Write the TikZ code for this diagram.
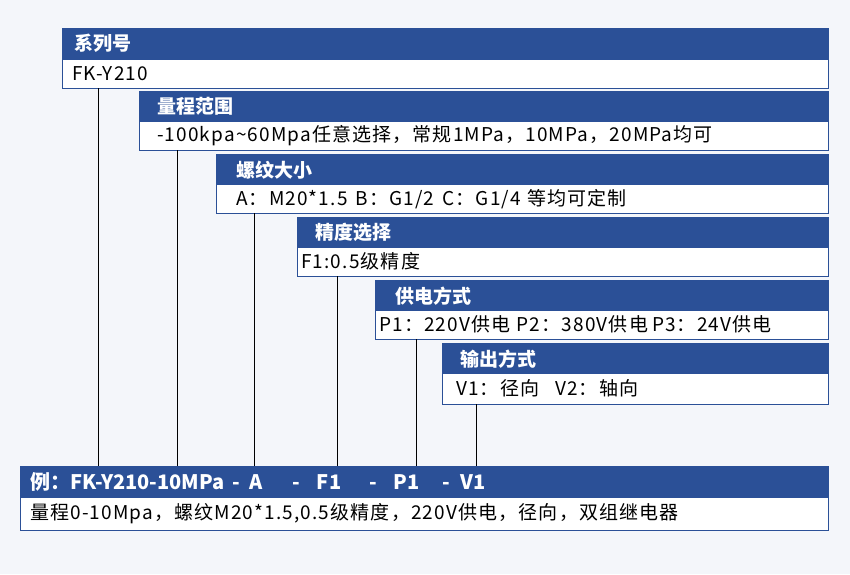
\documentclass[tikz,border=0pt]{standalone}
\usepackage{fontspec}
\setmainfont{Noto Sans CJK SC}
\definecolor{hdblue}{HTML}{2B5097}
\definecolor{bgrey}{HTML}{F4F6FA}
\tikzset{
  head/.style={anchor=north west, fill=hdblue, draw=hdblue, text=white, font=\bfseries\fontsize{19}{21}\selectfont, minimum height=31pt, inner sep=0pt, align=left},
  body/.style={anchor=north west, fill=white, draw=hdblue, font=\fontsize{19}{21}\selectfont\addfontfeature{LetterSpace=6}, minimum height=29pt, inner sep=0pt, align=left},
  lead/.style={draw=black, line width=0.9pt}
}
\begin{document}
\begin{tikzpicture}[x=1pt, y=-1pt]
    \def\xr{828};
    \useasboundingbox[fill=bgrey] (0,0) rectangle (850,574);

% option blocks
    \node[head, text width=\xr-62] (h1) at (62,28) {\hspace{12pt}系列号};
    \node[body, text width=\xr-62] (b1) at (62,59) {\hspace{10pt}FK-Y210};
    \node[head, text width=\xr-139] (h2) at (139,91) {\hspace{18pt}量程范围};
    \node[body, text width=\xr-139] (b2) at (139,121) {\hspace{18pt}-100kpa\textasciitilde 60Mpa任意选择，常规1MPa，10MPa，20MPa均可};
    \node[head, text width=\xr-216] (h3) at (216,154) {\hspace{20pt}螺纹大小};
    \node[body, text width=\xr-216] (b3) at (216,184) {\hspace{20pt}A：M20*1.5\hspace{8pt}B：G1/2\hspace{8pt}C：G1/4 等均可定制};
    \node[head, text width=\xr-297] (h4) at (297,217) {\hspace{18pt}精度选择};
    \node[body, text width=\xr-297] (b4) at (297,247) {\hspace{4pt}F1:0.5级精度};
    \node[head, text width=\xr-375] (h5) at (375,280) {\hspace{20pt}供电方式};
    \node[body, text width=\xr-375] (b5) at (375,310) {\hspace{4pt}P1：220V供电 P2：380V供电\hspace{4pt}P3：24V供电};
    \node[head, text width=\xr-442] (h6) at (442,343) {\hspace{18pt}输出方式};
    \node[body, text width=\xr-442, minimum height=31pt] (b6) at (442,373) {\hspace{14pt}V1：径向\hspace{16pt}V2：轴向};

% example
    \node[head, text width=\xr-20, font=\bfseries\fontsize{20}{22}\selectfont] (ex) at (20,466) {\hspace{10pt}例：FK-Y210-10MPa\hspace{8pt}-\hspace{9pt}A\hspace{30pt}-\hspace{17pt}F1\hspace{28pt}-\hspace{17pt}P1\hspace{23pt}-\hspace{10pt}V1};
    \node[body, text width=\xr-20, minimum height=33pt] (exb) at (20,497) {\hspace{10pt}量程0-10Mpa，螺纹M20*1.5,0.5级精度，220V供电，径向，双组继电器};

% leader lines
    \draw[lead] (b1.south west) ++(36,0) coordinate (l1) -- (l1 |- ex.north);
    \draw[lead] (b2.south west) ++(38,0) coordinate (l2) -- (l2 |- ex.north);
    \draw[lead] (b3.south west) ++(38,0) coordinate (l3) -- (l3 |- ex.north);
    \draw[lead] (b4.south west) ++(40,0) coordinate (l4) -- (l4 |- ex.north);
    \draw[lead] (b5.south west) ++(41,0) coordinate (l5) -- (l5 |- ex.north);
    \draw[lead] (b6.south west) ++(34,0) coordinate (l6) -- (l6 |- ex.north);
\end{tikzpicture}
\end{document}
